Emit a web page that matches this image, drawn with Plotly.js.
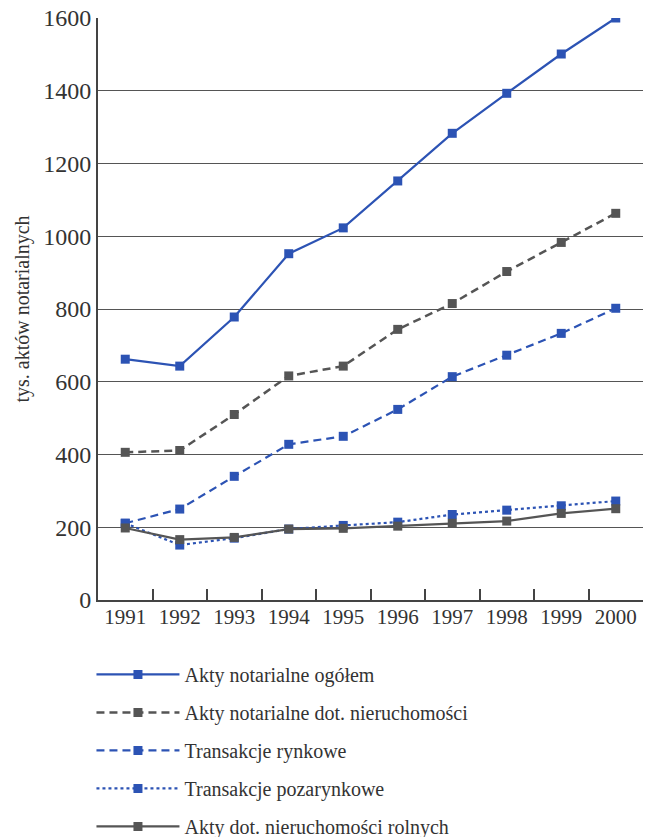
<!DOCTYPE html>
<html>
<head>
<meta charset="utf-8">
<script src="https://cdn.plot.ly/plotly-3.0.1.min.js"></script>
<style>html,body{margin:0;padding:0;background:#fff;}#chart{width:656px;height:837px;}</style>
</head>
<body>
<div id="chart"></div>
<script>
var years = ['1991','1992','1993','1994','1995','1996','1997','1998','1999','2000'];
var aktyOgolem = [662, 643, 778, 952, 1023, 1152, 1283, 1393, 1501, 1600];
var aktyNieruchomosci = [406, 411, 510, 616, 643, 744, 815, 903, 983, 1063];
var transakcjeRynkowe = [211, 250, 340, 428, 450, 524, 614, 673, 733, 802];
var transakcjePozarynkowe = [211, 151, 170, 195, 205, 214, 235, 247, 259, 272];
var aktyRolnych = [198, 166, 172, 195, 197, 203, 211, 217, 238, 251];
var seriesNames = ['Akty notarialne ogółem', 'Akty notarialne dot. nieruchomości', 'Transakcje rynkowe', 'Transakcje pozarynkowe', 'Akty dot. nieruchomości rolnych'];
var yTicks = [0, 200, 400, 600, 800, 1000, 1200, 1400, 1600];

var blue = '#2c53b4';
var gray = '#555555';
var serif = 'Times New Roman, Liberation Serif, serif';
function tr(y, name, color, dash, width, group) {
  return {
    x: years, y: y, name: name, type: 'scatter', mode: 'lines+markers',
    line: {color: color, dash: dash, width: width},
    marker: {symbol: 'square', size: 9, color: color},
    legendgroup: group
  };
}
var data = [
  tr(aktyOgolem, seriesNames[0], blue, 'solid', 2.2, 'a'),
  tr(aktyNieruchomosci, seriesNames[1], gray, '8px,5px', 2.5, 'b'),
  tr(transakcjeRynkowe, seriesNames[2], blue, '8px,5px', 2.2, 'c'),
  tr(transakcjePozarynkowe, seriesNames[3], blue, 'dot', 2.2, 'd'),
  tr(aktyRolnych, seriesNames[4], gray, 'solid', 2.2, 'e')
];
var layout = {
  width: 656, height: 837,
  margin: {l: 98, r: 13, t: 18, b: 237},
  paper_bgcolor: '#fff', plot_bgcolor: '#fff',
  font: {family: serif, color: '#333'},
  showlegend: true,
  legend: {
    x: -0.012, y: 0.2175, xref: 'paper', yref: 'container', xanchor: 'left', yanchor: 'top',
    traceorder: 'grouped', tracegroupgap: 9,
    itemwidth: 83,
    font: {family: serif, size: 20, color: '#333'},
    bgcolor: 'rgba(0,0,0,0)'
  },
  xaxis: {
    type: 'category', range: [-0.5, 9.5], showgrid: false, zeroline: false,
    showline: true, linecolor: '#444', linewidth: 2,
    ticks: 'inside', tickson: 'boundaries', ticklen: 11, tickwidth: 2, tickcolor: '#444',
    tickfont: {family: serif, size: 21, color: '#333'}, ticklabelstandoff: -3,
    fixedrange: true
  },
  yaxis: {
    range: [0, 1600], tickmode: 'array', tickvals: yTicks,
    showgrid: true, gridcolor: '#555', gridwidth: 1,
    zeroline: false, showline: true, linecolor: '#444', linewidth: 2,
    ticks: '', tickfont: {family: serif, size: 24, color: '#333'},
    title: {text: 'tys. aktów notarialnych', font: {family: serif, size: 20, color: '#333'}, standoff: 8},
    fixedrange: true
  }
};
Plotly.newPlot('chart', data, layout, {displayModeBar: false, staticPlot: true});
</script>
</body>
</html>
